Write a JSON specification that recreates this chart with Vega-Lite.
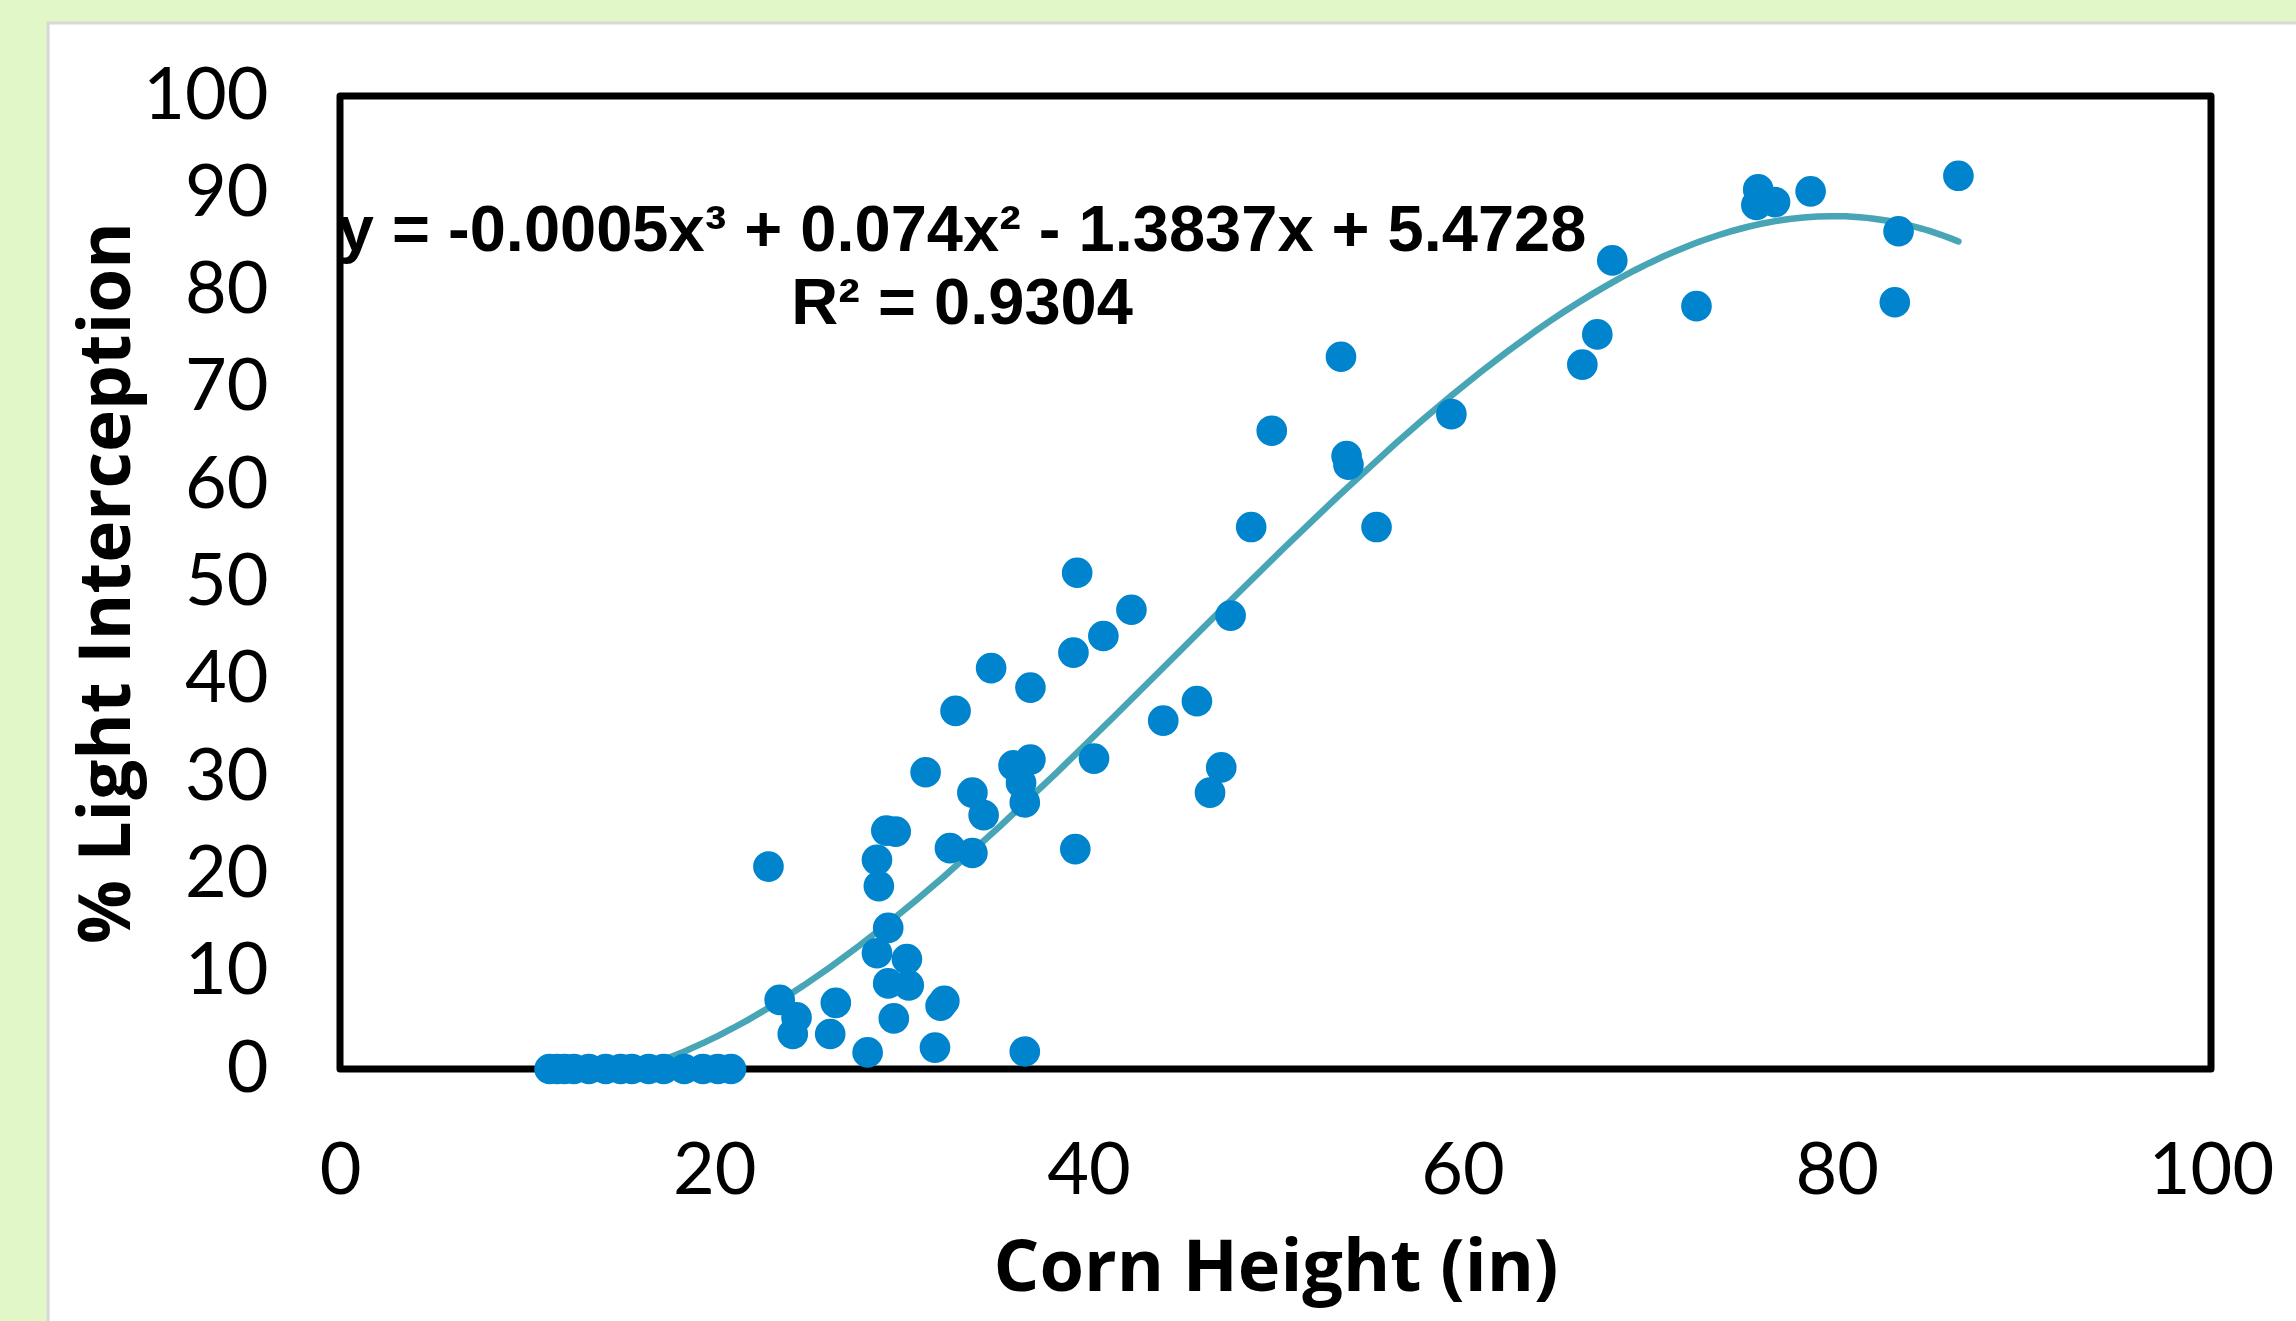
{
  "$schema": "https://vega.github.io/schema/vega-lite/v6.json",
  "width": 1871,
  "height": 973,
  "autosize": {"type": "none"},
  "padding": {"left": 340, "top": 96, "right": 85, "bottom": 252},
  "background": "#E1F7C7",
  "config": {"view": {"stroke": null}},
  "datasets": {
    "points": [
      {"height": 11.2, "light": 0}, {"height": 11.6, "light": 0}, {"height": 12.0, "light": 0},
      {"height": 12.5, "light": 0}, {"height": 13.3, "light": 0}, {"height": 14.2, "light": 0},
      {"height": 15.0, "light": 0}, {"height": 15.6, "light": 0}, {"height": 16.5, "light": 0},
      {"height": 17.3, "light": 0}, {"height": 18.4, "light": 0}, {"height": 19.4, "light": 0},
      {"height": 20.2, "light": 0}, {"height": 20.9, "light": 0},
      {"height": 22.9, "light": 20.8}, {"height": 23.5, "light": 7.1}, {"height": 24.4, "light": 5.3},
      {"height": 24.2, "light": 3.6}, {"height": 26.5, "light": 6.8}, {"height": 26.2, "light": 3.6},
      {"height": 28.2, "light": 1.7}, {"height": 28.7, "light": 21.5}, {"height": 28.8, "light": 18.8},
      {"height": 29.2, "light": 24.5}, {"height": 29.7, "light": 24.4}, {"height": 29.3, "light": 14.5},
      {"height": 28.7, "light": 11.9}, {"height": 29.3, "light": 8.8}, {"height": 29.6, "light": 5.2},
      {"height": 30.3, "light": 11.3}, {"height": 30.4, "light": 8.6}, {"height": 31.3, "light": 30.5},
      {"height": 31.8, "light": 2.2}, {"height": 32.1, "light": 6.5}, {"height": 32.3, "light": 7.0},
      {"height": 32.6, "light": 22.7}, {"height": 32.9, "light": 36.8}, {"height": 33.8, "light": 28.4},
      {"height": 33.8, "light": 22.2}, {"height": 34.4, "light": 26.1}, {"height": 34.8, "light": 41.2},
      {"height": 36.0, "light": 31.2}, {"height": 36.9, "light": 31.8}, {"height": 36.4, "light": 29.4},
      {"height": 36.6, "light": 27.4}, {"height": 36.9, "light": 39.2}, {"height": 36.6, "light": 1.8},
      {"height": 39.2, "light": 42.8}, {"height": 39.4, "light": 51.0}, {"height": 39.3, "light": 22.6},
      {"height": 40.3, "light": 31.9}, {"height": 40.8, "light": 44.5}, {"height": 42.3, "light": 47.2},
      {"height": 44.0, "light": 35.8}, {"height": 45.8, "light": 37.8}, {"height": 47.1, "light": 31.0},
      {"height": 46.5, "light": 28.4}, {"height": 47.6, "light": 46.6}, {"height": 48.7, "light": 55.7},
      {"height": 49.8, "light": 65.6}, {"height": 53.5, "light": 73.2}, {"height": 53.8, "light": 63.0},
      {"height": 53.9, "light": 62.1}, {"height": 55.4, "light": 55.7}, {"height": 59.4, "light": 67.3},
      {"height": 66.4, "light": 72.4}, {"height": 67.2, "light": 75.5}, {"height": 68.0, "light": 83.1},
      {"height": 72.5, "light": 78.4}, {"height": 75.8, "light": 90.4}, {"height": 75.7, "light": 88.8},
      {"height": 76.7, "light": 89.1}, {"height": 78.6, "light": 90.2}, {"height": 83.1, "light": 78.8},
      {"height": 83.3, "light": 86.1}, {"height": 86.5, "light": 91.8}
    ]
  },
  "layer": [
    {
      "data": {"values": [{}]},
      "mark": {"type": "rect", "fill": "#FFFFFF", "stroke": "#D8D8D8", "strokeWidth": 3},
      "encoding": {
        "x": {"datum": -15.6, "type": "quantitative", "scale": {"domain": [0, 100]}, "title": "Corn Height (in)"},
        "x2": {"datum": 110},
        "y": {"datum": 107.5, "type": "quantitative", "scale": {"domain": [0, 100]}, "title": "% Light Interception"},
        "y2": {"datum": -40}
      }
    },
    {
      "data": {"values": [{}]},
      "mark": {"type": "rect", "fill": "transparent", "stroke": "#000000", "strokeWidth": 7, "strokeJoin": "round"},
      "encoding": {
        "x": {"datum": 0, "type": "quantitative", "scale": {"domain": [0, 100]}, "title": "Corn Height (in)"},
        "x2": {"datum": 100},
        "y": {"datum": 0, "type": "quantitative", "scale": {"domain": [0, 100]}, "title": "% Light Interception"},
        "y2": {"datum": 100}
      }
    },
    {
      "data": {"name": "points"},
      "transform": [{"regression": "light", "on": "height", "method": "poly", "order": 3}],
      "mark": {"type": "line", "color": "#48A5B6", "strokeWidth": 6.5, "strokeCap": "round", "clip": true},
      "encoding": {
        "x": {"field": "height", "type": "quantitative", "scale": {"domain": [0, 100]}, "title": "Corn Height (in)"},
        "y": {"field": "light", "type": "quantitative", "scale": {"domain": [0, 100]}, "title": "% Light Interception"}
      }
    },
    {
      "data": {"name": "points"},
      "mark": {"type": "circle", "size": 940, "color": "#0084CD", "opacity": 1},
      "encoding": {
        "x": {
          "field": "height", "type": "quantitative", "scale": {"domain": [0, 100]}, "title": "Corn Height (in)",
          "axis": {
            "zindex": 1,
            "values": [0, 20, 40, 60, 80, 100], "domain": false, "ticks": false, "tickSize": 0, "grid": false,
            "labelFont": "Lato", "labelFontSize": 72, "labelColor": "#000000", "labelPadding": 124,
            "labelBaseline": "alphabetic", "labelFlush": false, "labelOverlap": false,
            "titleFont": "Open Sans", "titleFontSize": 72, "titleFontWeight": "bold", "titleColor": "#000000",
            "titleX": 935.5, "titleY": 221, "titleBaseline": "alphabetic", "titleAlign": "center"
          }
        },
        "y": {
          "field": "light", "type": "quantitative", "scale": {"domain": [0, 100]}, "title": "% Light Interception",
          "axis": {
            "zindex": 1,
            "values": [0, 10, 20, 30, 40, 50, 60, 70, 80, 90, 100], "domain": false, "ticks": false, "tickSize": 0, "grid": false,
            "labelFont": "Lato", "labelFontSize": 72, "labelColor": "#000000", "labelPadding": 72,
            "labelBaseline": "middle", "labelAlign": "right", "labelFlush": false, "labelOverlap": false,
            "titleFont": "Open Sans", "titleFontSize": 71, "titleFontWeight": "bold", "titleColor": "#000000",
            "titleAngle": -90, "titleX": -211, "titleY": 486.5, "titleBaseline": "alphabetic", "titleAlign": "center"
          }
        }
      }
    },
    {
      "data": {"values": [{}]},
      "mark": {"type": "text", "font": "Liberation Sans", "fontWeight": "bold", "fontSize": 65, "align": "center", "baseline": "alphabetic", "lineHeight": 73, "color": "#000000"},
      "encoding": {
        "x": {"datum": 33.25, "type": "quantitative", "scale": {"domain": [0, 100]}, "title": "Corn Height (in)"},
        "y": {"datum": 84.05, "type": "quantitative", "scale": {"domain": [0, 100]}, "title": "% Light Interception"},
        "text": {"value": ["y = -0.0005x³ + 0.074x² - 1.3837x + 5.4728", "R² = 0.9304"]}
      }
    }
  ]
}
